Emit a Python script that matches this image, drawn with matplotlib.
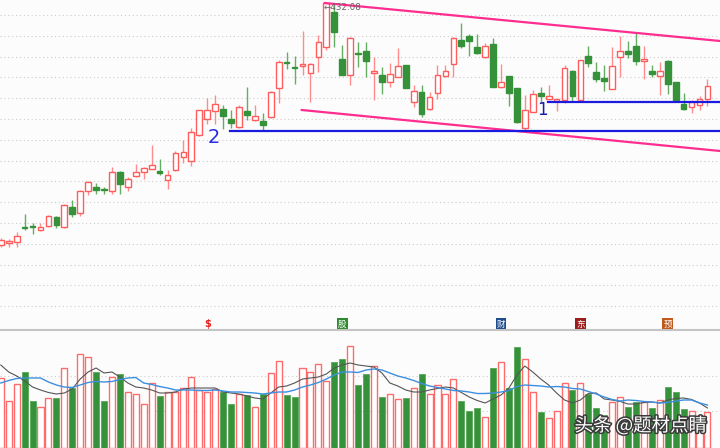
import numpy as np
import matplotlib
matplotlib.use('Agg')
import matplotlib.pyplot as plt
from matplotlib import patheffects

# daily candles
opens = [190, 192, 193, 207.5, 208.5, 205, 209, 218, 208, 228,
         222, 244, 248, 245.5, 244, 263, 248, 259, 263, 266,
         264, 255, 265, 278, 274, 300, 316, 324, 326, 316,
         308, 324, 315, 314, 318, 347, 373, 368, 369, 362,
         378, 388, 423, 376, 360, 382, 384, 362, 360, 353,
         358, 370, 333, 343, 326, 342, 359, 371, 395, 399,
         388, 378, 391, 348, 359, 347, 307, 323, 342, 336,
         334, 335, 364, 335, 379, 363, 357, 346, 378, 384,
         389, 374, 364, 359, 374, 353, 331, 328, 330, 336]
closes = [195, 194, 199, 206.5, 207.5, 208, 219, 210, 230, 221,
          244, 253, 245, 244.5, 263, 251, 256, 263, 267, 270,
          262, 260, 282, 283, 303, 325, 325, 331, 319, 312,
          328, 320, 319, 310, 343, 373, 371.5, 367, 371, 371,
          393, 432, 403, 360, 397, 381, 374, 364, 353, 361,
          369, 347, 344, 321, 338, 360, 364, 397, 389, 394,
          382, 389, 348, 353, 342, 313, 325, 341, 339, 339,
          336, 367, 339, 375, 372, 356, 354, 369, 384, 381,
          374, 376, 361, 364, 351, 335, 326, 333, 336, 349]
highs = [197, 196, 203, 221, 212, 212, 220, 219, 231, 235,
         245, 254, 252, 248, 268, 264, 258, 271, 268, 290,
         276, 265, 284, 295, 307, 325, 337, 340, 330, 325,
         330, 348, 330, 322, 344, 375, 383, 379, 404, 372,
         400, 432.08, 432, 390, 398, 393, 393, 378, 368, 372,
         387, 370, 350, 350, 343, 370, 370, 398, 412, 401,
         401, 392, 397, 371, 359, 347, 340, 345, 348, 350,
         336, 370, 365, 375, 389, 373, 370, 388, 399, 394,
         402, 389, 370, 373, 375, 353, 342, 335, 339, 356]
lows = [188, 188, 188, 205, 201, 204, 208, 207, 207, 218,
        219, 240, 241, 241, 241, 241, 244, 258, 256, 266,
        260, 246, 264, 272, 269, 299, 311, 311, 306, 307,
        307, 315, 314, 304, 317, 332, 366, 351, 360, 333,
        363, 385, 388, 360, 350, 368, 358, 335, 341, 348,
        358, 347, 328, 318, 325, 336, 358, 358, 387, 379,
        381, 377, 348, 347, 329, 312, 305, 323, 333, 335,
        324, 332, 333, 335, 368, 353, 344, 346, 358, 377,
        370, 356, 358, 340, 341, 334, 325, 322, 325, 329]
volumes = [70, 47, 64, 76, 47, 41, 50, 50, 80, 60,
           94, 91, 76, 47, 71, 74, 56, 54, 44, 65,
           52, 56, 56, 60, 71, 58, 56, 59, 56, 44,
           54, 53, 41, 54, 75, 87, 53, 51, 80, 76,
           84, 67, 86, 89, 102, 63, 74, 82, 51, 54,
           49, 50, 60, 74, 54, 63, 54, 69, 47, 37,
           40, 31, 80, 86, 60, 101, 89, 56, 36, 30,
           37, 65, 58, 65, 54, 40, 33, 46, 51, 41,
           46, 46, 40, 48, 61, 56, 39, 37, 32, 36]
vol_ma5 = [83, 76, 72, 67, 61, 58, 55.5, 54, 55, 59,
           69, 76, 80, 75, 76, 71, 65, 61, 60, 58,
           55, 55, 56, 59, 60, 60, 60, 60, 56, 55,
           54, 52, 50, 49, 55, 61, 62, 65, 69, 70,
           71, 74, 80, 83, 85, 83, 82, 81, 75, 65,
           62, 58, 56, 56, 58, 59.5, 61, 60, 55.5, 51,
           47.5, 45, 49, 53, 60, 73, 82, 76, 69, 63,
           55, 48, 45, 48, 54.5, 55, 49, 48, 46.5, 44,
           44, 45.5, 46, 45, 48, 49.5, 50, 48.5, 45, 40]
vol_ma10 = [65, 67.5, 69.5, 70, 70, 70, 66, 63, 61, 60.5,
            63, 65.5, 66.5, 66, 66.5, 68.5, 70, 70.5, 65, 63.5,
            61.5, 60, 58, 58, 58, 57.5, 57.5, 58, 57, 56,
            56, 55.5, 55, 54, 55, 56, 56, 58, 61, 63,
            65.5, 69, 73, 76, 76, 75.5, 78, 79, 78, 75,
            72, 70, 67.5, 64.5, 62, 60.5, 59, 57.5, 57, 56,
            54.5, 54.5, 55, 56, 57.5, 61.5, 63, 62.5, 62, 61,
            61.5, 61, 59.5, 59, 56.5, 54, 51, 48.5, 47, 48,
            47.5, 46.5, 46, 45, 45.5, 47, 48, 48, 45, 43]

# hand-drawn annotations (candle index, price)
channel_upper = [(40.8, 432.0), (90.6, 394.0)]
channel_lower = [(37.9, 325.0), (90.6, 284.0)]
support_levels = [(28.9, 304.0), (68.9, 333.0)]
wave_labels = [('2', 26.0, 292.0, 14, '#2a2ae6'), ('1', 67.6, 320.0, 12, '#1c1ca8')]
peak_label = '432.08'
event_idx = [26, 43, 63, 73, 84]
event_text = ['$', '股', '财', '东', '预']
event_color = [None, '#2f8a2f', '#1f4e8c', '#9b1c1c', '#c0581a']

UP = '#ff5c5c'
UP_WICK = '#ff8c8c'
DOWN = '#35923a'
DOWN_WICK = '#63ae63'
CJK = ['Noto Sans CJK SC', 'DejaVu Sans']


def draw_candles(ax, x):
    o = np.array(opens)
    c = np.array(closes)
    h = np.array(highs)
    l = np.array(lows)
    up = c >= o
    top = np.maximum(o, c)
    bot = np.minimum(o, c)
    body = np.maximum(top - bot, 0.9)
    for mask, col, wick, fc in [(up, UP, UP_WICK, 'white'), (~up, DOWN, DOWN_WICK, DOWN)]:
        ax.vlines(x[mask], top[mask], h[mask], color=wick, lw=1, zorder=2)
        ax.vlines(x[mask], l[mask], bot[mask], color=wick, lw=1, zorder=2)
        ax.bar(x[mask], body[mask], bottom=bot[mask], width=0.72,
               facecolor=fc, edgecolor=col, linewidth=1, zorder=3)
    return up


def main():
    x = np.arange(len(opens))
    fig = plt.figure(figsize=(7.2, 4.48), dpi=100)
    fig.patch.set_facecolor('#fcfcfc')
    ax = fig.add_axes([0, 118 / 448, 1, 330 / 448])
    axv = fig.add_axes([0, 0, 1, 118 / 448])
    for a in (ax, axv):
        a.set_facecolor('#fcfcfc')
        a.set_xlim(-0.1, 90.58)
        a.set_xticks([])
        a.set_yticks([])
        for s in a.spines.values():
            s.set_visible(False)
    ax.set_ylim(105, 435)
    axv.set_ylim(0, 118)
    axv.spines['top'].set_visible(True)
    axv.spines['top'].set_color('#c4c4c4')
    axv.spines['top'].set_linewidth(1.5)

    dots = (0, (1, 2.5))
    for lv in 420 - 20.8 * np.arange(15):
        ax.axhline(lv, color='#cccccc', lw=0.8, ls=dots, zorder=0)
    for lv in (72, 37):
        axv.axhline(lv, color='#cccccc', lw=0.8, ls=dots, zorder=0)

    up = draw_candles(ax, x)

    # channel and support lines
    for seg in (channel_upper, channel_lower):
        (x0, y0), (x1, y1) = seg
        ax.plot([x0, x1], [y0, y1], color='#ff2d8f', lw=1.6, zorder=4)
    for xs, lv in support_levels:
        ax.plot([xs, 90.6], [lv, lv], color='#1a1ae0', lw=1.6, zorder=4)
    for txt, lx, ly, fs, col in wave_labels:
        ax.text(lx, ly, txt, fontsize=fs, color=col, ha='left', va='baseline', zorder=5)

    peak = int(np.argmax(highs))
    ax.text(peak - 0.4, highs[peak], '\u2190' + peak_label, fontsize=6.3, color='#666666',
            ha='left', va='top', zorder=5)

    for i, t, col in zip(event_idx, event_text, event_color):
        if col is None:
            ax.text(i, 111, t, fontsize=7, color='#e82020', ha='center', va='center',
                    fontweight='bold', zorder=5)
        else:
            ax.text(i, 111, t, fontsize=6.2, color='white', ha='center', va='center',
                    family=CJK, zorder=5,
                    bbox=dict(boxstyle='square,pad=0.12', fc=col, ec='none'))

    # volume panel
    vol = np.array(volumes)
    axv.bar(x[up], vol[up], width=0.76, facecolor='white', edgecolor='#ff6b6b', lw=1, zorder=2)
    axv.bar(x[~up], vol[~up], width=0.76, facecolor=DOWN, edgecolor='#5aa85a', lw=0.6, zorder=2)
    axv.plot(x, vol_ma5, color='#555555', lw=0.8, zorder=3)
    axv.plot(x, vol_ma10, color='#3d8fe0', lw=1.0, zorder=3)

    axv.text(0.982, 0.19, '头条 @题材点睛', transform=axv.transAxes, ha='right', va='center',
             fontsize=13.3, color='white', family=CJK, zorder=6,
             path_effects=[patheffects.withStroke(linewidth=2.2, foreground='#3a3a3a')])

    fig.savefig('out.png', dpi=100, facecolor=fig.get_facecolor())
    plt.close(fig)


if __name__ == '__main__':
    main()
